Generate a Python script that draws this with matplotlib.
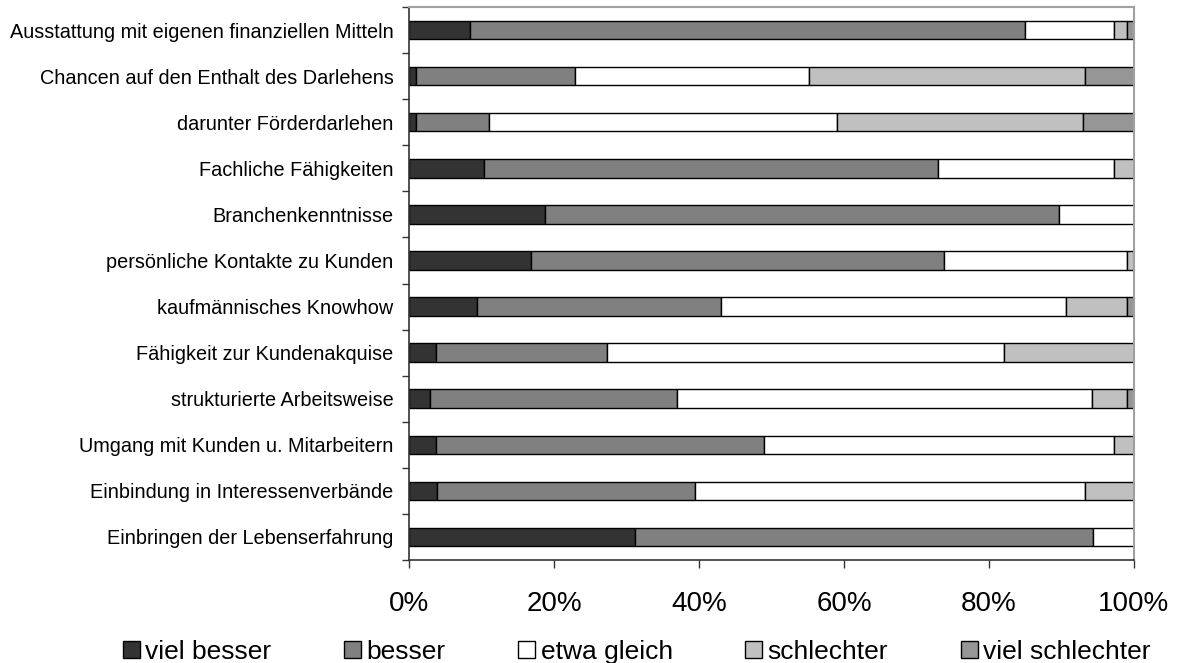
import matplotlib.pyplot as plt
import numpy as np
from matplotlib.patches import Patch

plt.rcParams['font.family'] = ['Liberation Sans', 'DejaVu Sans']

# Daten (Anteile in %)
kategorien = ["Ausstattung mit eigenen finanziellen Mitteln",
              "Chancen auf den Enthalt des Darlehens",
              "darunter Förderdarlehen",
              "Fachliche Fähigkeiten",
              "Branchenkenntnisse",
              "persönliche Kontakte zu Kunden",
              "kaufmännisches Knowhow",
              "Fähigkeit zur Kundenakquise",
              "strukturierte Arbeitsweise",
              "Umgang mit Kunden u. Mitarbeitern",
              "Einbindung in Interessenverbände",
              "Einbringen der Lebenserfahrung"]

viel_besser = [8.4, 1.0, 1.0, 10.3, 18.7, 16.8, 9.4, 3.7, 2.9, 3.7, 3.8, 31.2]
besser = [76.6, 21.9, 10.0, 62.6, 71.0, 57.0, 33.6, 23.6, 34.0, 45.3, 35.6, 63.1]
etwa_gleich = [12.2, 32.3, 48.0, 24.3, 10.3, 25.3, 47.6, 54.8, 57.3, 48.2, 53.8, 5.7]
schlechter = [1.9, 38.1, 34.0, 2.8, 0.0, 0.9, 8.4, 17.9, 4.8, 2.8, 6.8, 0.0]
viel_schlechter = [0.9, 6.7, 7.0, 0.0, 0.0, 0.0, 1.0, 0.0, 1.0, 0.0, 0.0, 0.0]

serien = ["viel besser", "besser", "etwa gleich", "schlechter", "viel schlechter"]
farben = ["#333333", "#808080", "#ffffff", "#c0c0c0", "#969696"]

fig = plt.figure(figsize=(11.77, 6.63), dpi=100)
ax = fig.add_axes([409/1177, 1-560/663, (1134-409)/1177, (560-7)/663])

y = np.arange(len(kategorien))
links = np.zeros(len(kategorien))
for werte, name, farbe in zip([viel_besser, besser, etwa_gleich, schlechter, viel_schlechter], serien, farben):
    werte = np.array(werte)
    ax.barh(y, werte, left=links, height=0.4, color=farbe, edgecolor="black", linewidth=1.0)
    links = links + werte

ax.set_xlim(0, 100)
ax.set_ylim(len(kategorien)-0.5, -0.5)

ax.set_yticks(y)
ax.set_yticklabels(kategorien, fontsize=14.3)
ax.set_yticks(np.arange(len(kategorien)+1)-0.5, minor=True)
ax.tick_params(axis='y', which='major', length=0, pad=11)
ax.tick_params(axis='y', which='minor', length=5, width=1, color="#333333")

ax.set_xticks([0, 20, 40, 60, 80, 100])
ax.set_xticklabels(["0%", "20%", "40%", "60%", "80%", "100%"], fontsize=20)
ax.tick_params(axis='x', length=6, width=1, color="#333333", pad=16)

for s in ["top", "right"]:
    ax.spines[s].set_color("#a0a0a0")
    ax.spines[s].set_linewidth(1.5)
for s in ["left", "bottom"]:
    ax.spines[s].set_color("#333333")
    ax.spines[s].set_linewidth(1.2)

handles = [Patch(facecolor=f, edgecolor="black", linewidth=1.0) for f in farben]
fig.legend(handles, serien, loc="center", bbox_to_anchor=(0.541, 0.017), ncol=5,
           frameon=False, fontsize=19, handlelength=0.65, handleheight=0.65,
           handletextpad=0.2, columnspacing=2.75, borderaxespad=0, borderpad=0)

fig.savefig("out.png", dpi=100)
